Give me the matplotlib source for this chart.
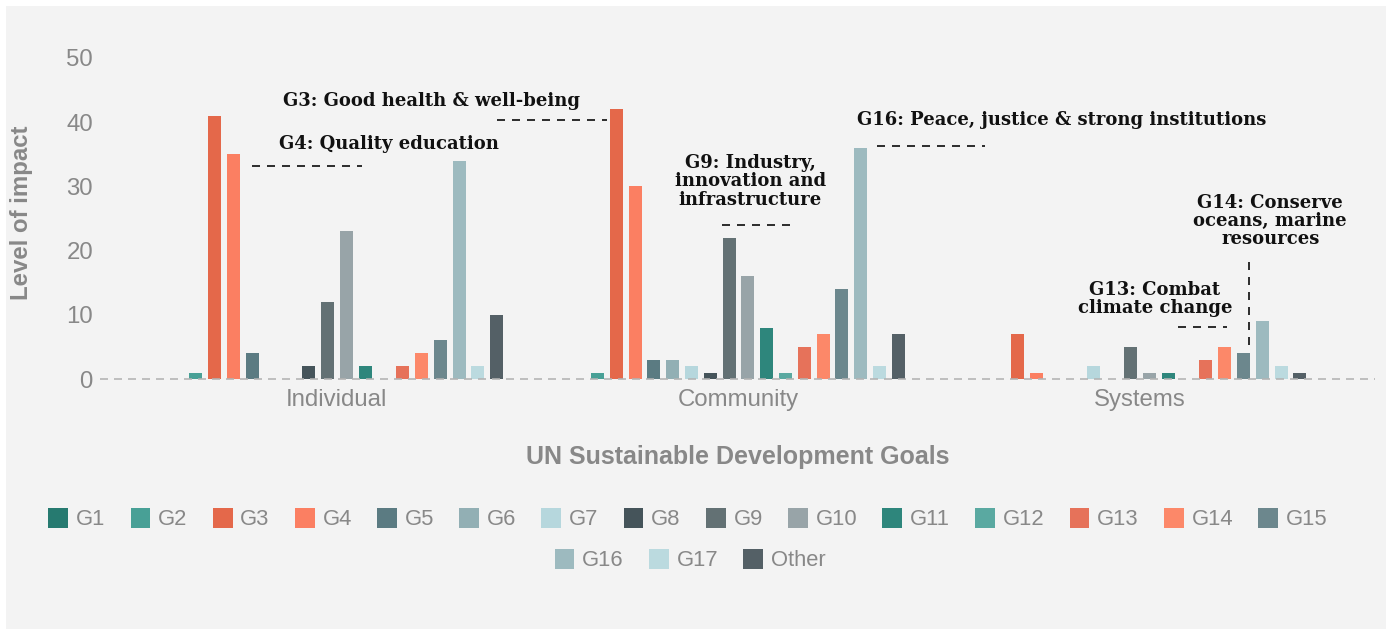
import matplotlib
matplotlib.use("Agg")
import matplotlib.pyplot as plt
from matplotlib.patches import Rectangle
import numpy as np

# ---------------- data ----------------
categories = ["Individual", "Community", "Systems"]
goals = ["G1", "G2", "G3", "G4", "G5", "G6", "G7", "G8", "G9", "G10",
         "G11", "G12", "G13", "G14", "G15", "G16", "G17", "Other"]
# values per goal: [Individual, Community, Systems]
values = {
    "G1":    [0, 0, 0],
    "G2":    [1, 1, 0],
    "G3":    [41, 42, 7],
    "G4":    [35, 30, 1],
    "G5":    [4, 3, 0],
    "G6":    [0, 3, 0],
    "G7":    [0, 2, 2],
    "G8":    [2, 1, 0],
    "G9":    [12, 22, 5],
    "G10":   [23, 16, 1],
    "G11":   [2, 8, 1],
    "G12":   [0, 1, 0],
    "G13":   [2, 5, 3],
    "G14":   [4, 7, 5],
    "G15":   [6, 14, 4],
    "G16":   [34, 36, 9],
    "G17":   [2, 2, 2],
    "Other": [10, 7, 1],
}
colors = ["#267a70", "#48a096", "#e4684a", "#fb7f62", "#5b7b82", "#92afb4",
          "#b6d7dd", "#45545a", "#637174", "#98a4a8", "#2e867c", "#5aa9a1",
          "#e6725a", "#fc8869", "#6c878d", "#9dbabf", "#bbdadf", "#546066"]
y_ticks = [0, 10, 20, 30, 40, 50]

annotations = [
    # text, x, y
    ("G3: Good health & well-being", 0.235, 43.3),
    ("G4: Quality education", 0.1295, 36.6),
    ("G16: Peace, justice & strong institutions", 1.806, 40.3),
    ("G9: Industry,\ninnovation and\ninfrastructure", 1.029, 30.8),
    ("G13: Combat\nclimate change", 2.037, 12.5),
    ("G14: Conserve\noceans, marine\nresources", 2.324, 24.6),
]
h_leaders = [  # x0, x1, y
    (0.398, 0.672, 40.3),
    (-0.212, 0.062, 33.2),
    (1.345, 1.614, 36.3),
    (0.959, 1.133, 24.0),
    (2.095, 2.217, 8.1),
]
v_leaders = [  # x, y0, y1
    (2.271, 5.3, 19.0),
]

# ---------------- figure ----------------
plt.rcParams["lines.scale_dashes"] = False
W, H, DPI = 1390, 629, 72
fig = plt.figure(figsize=(W / DPI, H / DPI), dpi=DPI, facecolor="white")
fig.patches.append(Rectangle((6 / W, 0), 1380 / W, 623 / H, transform=fig.transFigure,
                             facecolor="#f3f3f3", edgecolor="none", zorder=-5))

ax = fig.add_axes([100 / W, 1 - 379 / H, 1275 / W, 321 / H])
ax.set_facecolor("none")
ax.set_zorder(1)

group_x = np.arange(len(categories))
pitch = 0.0468
width = 0.0324
handles = []
for i, g in enumerate(goals):
    xs = group_x + (i - (len(goals) - 1) / 2) * pitch
    b = ax.bar(xs, values[g], width=width, color=colors[i], label=g, zorder=2)
    handles.append(b)

ax.set_xlim(-0.59, 2.585)
ax.set_ylim(0, 50)
ax.axhline(0, color="#b3b3b3", lw=1.6, linestyle=(0, (8, 6)), zorder=3, clip_on=False)

for s in ax.spines.values():
    s.set_visible(False)

tick_col = "#888888"
ax.set_yticks(y_ticks)
ax.set_yticklabels([str(t) for t in y_ticks], fontsize=24, color=tick_col,
                   family="Liberation Sans")
ax.set_xticks(group_x)
ax.set_xticklabels(categories, fontsize=24, color=tick_col, family="Liberation Sans")
ax.tick_params(axis="both", length=0)
ax.tick_params(axis="y", pad=7)
ax.tick_params(axis="x", pad=10)

fig.text(22 / W, 1 - 213 / H, "Level of impact", rotation=90, ha="center", va="center",
         fontsize=24, fontweight="bold", color=tick_col, family="Liberation Sans")
fig.text(738 / W, 1 - 457 / H, "UN Sustainable Development Goals", ha="center",
         va="center", fontsize=25, fontweight="bold", color=tick_col,
         family="Liberation Sans")

for txt, x, y in annotations:
    ax.text(x, y, txt, ha="center", va="center", fontsize=18, fontweight="bold",
            family="DejaVu Serif", color="#111111", linespacing=1.02, zorder=5)
for x0, x1, y in h_leaders:
    ax.plot([x0, x1], [y, y], color="black", lw=1.6, linestyle=(0, (8, 7)), zorder=5)
for x, y0, y1 in v_leaders:
    ax.plot([x, x], [y0, y1], color="black", lw=1.6, linestyle=(0, (8, 7)), zorder=5)

leg_kw = dict(loc="center", frameon=False, handlelength=0.9,
              handleheight=1.05, handletextpad=0.35, columnspacing=1.15,
              borderaxespad=0, borderpad=0, labelcolor=tick_col,
              prop={"family": "Liberation Sans", "size": 22})
fig.legend(handles[:15], goals[:15], ncol=15, bbox_to_anchor=(688 / W, 1 - 519 / H),
           **leg_kw)
fig.legend(handles[15:], goals[15:], ncol=3, bbox_to_anchor=(690 / W, 1 - 560 / H),
           **leg_kw)

fig.savefig("out.png", dpi=DPI, facecolor="white")
